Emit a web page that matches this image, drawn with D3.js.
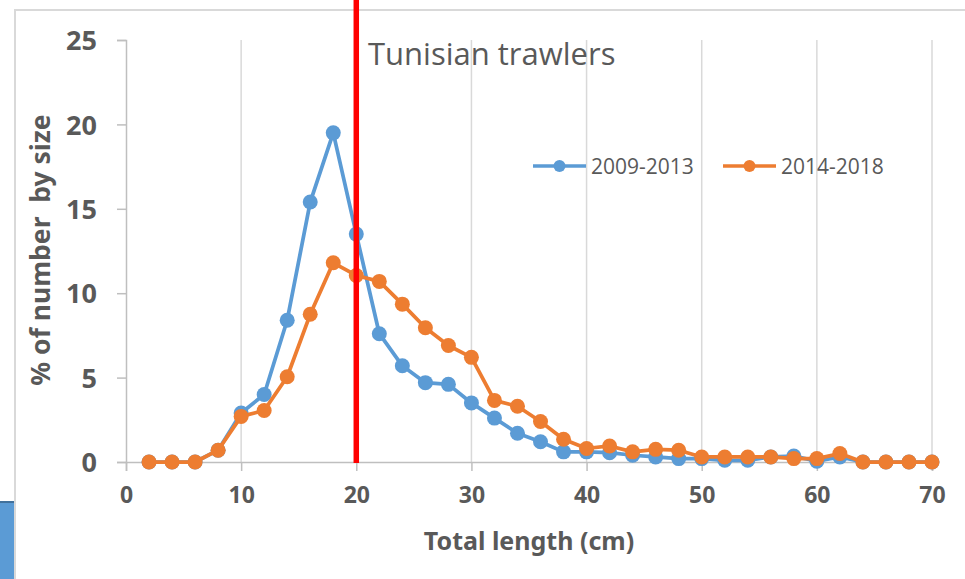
<!DOCTYPE html>
<html>
<head>
<meta charset="utf-8">
<script src="https://cdn.jsdelivr.net/npm/d3@7"></script>
<style>
    body { margin: 0; background: #fff; }
    svg { display: block; font-family: "Open Sans", sans-serif; }
    .bold { font-family: "Noto Sans", "Open Sans", sans-serif; font-weight: bold; }
</style>
</head>
<body>
<div id="chart"></div>
<script>
// Chart data
const lengths = [2, 4, 6, 8, 10, 12, 14, 16, 18, 20, 22, 24, 26, 28, 30, 32, 34, 36,
    38, 40, 42, 44, 46, 48, 50, 52, 54, 56, 58, 60, 62, 64, 66, 68, 70];
const series2009 = [0, 0, 0, 0.7, 2.9, 4.0, 8.4, 15.4, 19.5, 13.5, 7.6, 5.7, 4.7, 4.6, 3.5, 2.6, 1.7, 1.2,
    0.6, 0.6, 0.55, 0.4, 0.3, 0.2, 0.2, 0.1, 0.1, 0.3, 0.35, 0.05, 0.3, 0, 0, 0, 0];
const series2014 = [0, 0, 0, 0.7, 2.7, 3.05, 5.05, 8.75, 11.8, 11.05, 10.7, 9.35, 7.95, 6.9, 6.2, 3.65, 3.3, 2.4,
    1.35, 0.8, 0.95, 0.6, 0.75, 0.7, 0.3, 0.3, 0.3, 0.3, 0.2, 0.2, 0.5, 0, 0, 0, 0];
const seriesNames = ["2009-2013", "2014-2018"];
const xTicks = [0, 10, 20, 30, 40, 50, 60, 70];
const yTicks = [0, 5, 10, 15, 20, 25];
const cutoffLength = 20;

const width = 965;
const height = 579;
const textColor = '#595959';
const colors = ['#5B9BD5', '#ED7D31'];

const svg = d3.select('#chart')
    .append('svg')
    .attr('width', width)
    .attr('height', height);

// Outer frame + the blue shape peeking in at bottom left
svg.append('rect')
    .attr('x', 0).attr('y', 502)
    .attr('width', 15).attr('height', 80)
    .attr('fill', '#5B9BD5');
svg.append('line')
    .attr('x1', 0).attr('x2', 15).attr('y1', 502).attr('y2', 502)
    .attr('stroke', '#41719C').attr('stroke-width', 2);
svg.append('path')
    .attr('d', `M15,${height} V10 H${width}`)
    .attr('fill', 'none')
    .attr('stroke', '#D9D9D9')
    .attr('stroke-width', 2);

// Scales
const x = d3.scaleLinear().domain([0, 70]).range([126, 932]);
const y = d3.scaleLinear().domain([0, 25]).range([462, 40]);

// Vertical gridlines
svg.append('g')
    .selectAll('line')
    .data(xTicks.filter(d => d > 0))
    .join('line')
    .attr('x1', d => x(d)).attr('x2', d => x(d))
    .attr('y1', y(25)).attr('y2', y(0))
    .attr('stroke', '#D9D9D9')
    .attr('stroke-width', 1.5);

// Y axis
const yAxis = svg.append('g')
    .attr('transform', `translate(${x(0)},0)`)
    .call(d3.axisLeft(y).tickValues(yTicks).tickSize(9).tickPadding(20));
yAxis.select('.domain').attr('stroke', '#BFBFBF').attr('stroke-width', 1.5);
yAxis.selectAll('.tick line').attr('stroke', '#BFBFBF').attr('stroke-width', 1.5);
yAxis.selectAll('.tick text')
    .attr('class', 'bold')
    .attr('fill', textColor)
    .style('font-size', '27px')
    .attr('dy', '0.36em');

// X axis
const xAxis = svg.append('g')
    .attr('transform', `translate(0,${y(0)})`)
    .call(d3.axisBottom(x).tickValues(xTicks).tickSize(9).tickPadding(16));
xAxis.select('.domain').attr('stroke', '#BFBFBF').attr('stroke-width', 1.5);
xAxis.selectAll('.tick line').attr('stroke', '#BFBFBF').attr('stroke-width', 1.5);
xAxis.selectAll('.tick text')
    .attr('class', 'bold')
    .attr('fill', textColor)
    .style('font-size', '23px');

// Axis titles
svg.append('text')
    .attr('class', 'bold')
    .attr('x', 529)
    .attr('y', 550)
    .attr('text-anchor', 'middle')
    .attr('fill', textColor)
    .style('font-size', '25px')
    .text('Total length (cm)');

svg.append('text')
    .attr('class', 'bold')
    .attr('transform', 'translate(50,250) rotate(-90)')
    .attr('text-anchor', 'middle')
    .attr('fill', textColor)
    .style('font-size', '26.5px')
    .style('white-space', 'pre')
    .text('% of number  by size');

// Title
svg.append('text')
    .attr('x', 368)
    .attr('y', 65)
    .attr('fill', textColor)
    .style('font-size', '31px')
    .text('Tunisian trawlers');

// Series lines and markers
const line = d3.line()
    .x((d, i) => x(lengths[i]))
    .y(d => y(d));

[series2009, series2014].forEach((values, k) => {
    svg.append('path')
        .datum(values)
        .attr('d', line)
        .attr('fill', 'none')
        .attr('stroke', colors[k])
        .attr('stroke-width', 3.75)
        .attr('stroke-linejoin', 'round');

    svg.append('g')
        .selectAll('circle')
        .data(values)
        .join('circle')
        .attr('cx', (d, i) => x(lengths[i]))
        .attr('cy', d => y(d))
        .attr('r', 7.5)
        .attr('fill', colors[k]);
});

// Legend
const legendX = [533, 723];
seriesNames.forEach((name, k) => {
    const g = svg.append('g').attr('transform', `translate(${legendX[k]},166)`);
    g.append('line')
        .attr('x1', 0).attr('x2', 53)
        .attr('stroke', colors[k])
        .attr('stroke-width', 3.5);
    g.append('circle')
        .attr('cx', 26.5)
        .attr('r', 6)
        .attr('fill', colors[k]);
    g.append('text')
        .attr('x', 58)
        .attr('y', 8)
        .attr('fill', textColor)
        .style('font-size', '21px')
        .text(name);
});

// Red cut-off line at 20 cm
svg.append('line')
    .attr('x1', x(cutoffLength)).attr('x2', x(cutoffLength))
    .attr('y1', 0).attr('y2', y(0) + 1)
    .attr('stroke', '#FF0000')
    .attr('stroke-width', 5.5);
</script>
</body>
</html>
